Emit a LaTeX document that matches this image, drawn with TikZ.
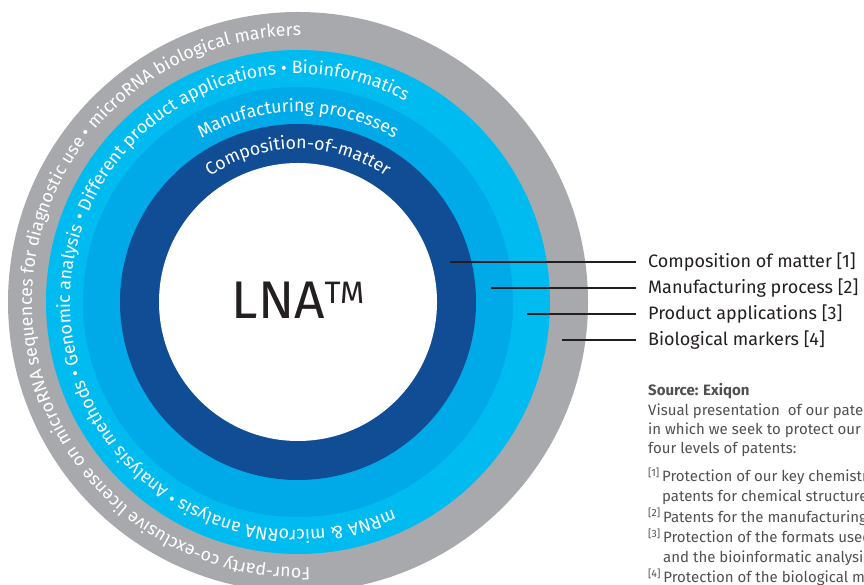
\documentclass[tikz,border=0pt]{standalone}
\usepackage{fontspec}
\setmainfont{Fira Sans}
\usetikzlibrary{decorations.text,positioning}
\definecolor{ringgray}{RGB}{167,169,172}
\definecolor{ringcyan}{RGB}{0,187,240}
\definecolor{ringblue}{RGB}{0,170,232}
\definecolor{ringdark}{RGB}{17,77,149}
\definecolor{labelgray}{RGB}{35,31,32}
\definecolor{notegray}{RGB}{80,80,82}
\newcommand\ringfont{\fontsize{17.8}{17.8}\selectfont}
\tikzset{%
  leader/.style={draw=labelgray, line width=1.2pt},
  legend/.style={anchor=base west, inner xsep=12pt, inner ysep=0pt, text=labelgray, font=\fontsize{18}{18}\selectfont},
  note/.style={anchor=base west, inner sep=0pt, align=left, text=notegray, font=\fontsize{15}{19.3}\selectfont},
  ringtext/.style={decorate, decoration={text along path, text align=center, text color=white, text={#1}}}
}

\begin{document}
\begin{tikzpicture}[x=1pt,y=1pt]

  \useasboundingbox (0,0) rectangle (864,585);
  \coordinate (c) at (298,283);

  % rings
  \fill[ringgray] (c) circle [radius=290];
  \fill[ringcyan] (c) circle [radius=252];
  \fill[ringblue] (c) circle [radius=215];
  \fill[ringdark] (c) circle [radius=178];
  \fill[white] (c) circle [radius=139];

  % ring texts
  \path[ringtext={|\ringfont|Composition-of-matter}] (c) ++(180:153) arc[start angle=180, end angle=0, radius=153];
  \path[ringtext={|\ringfont|Manufacturing processes}] (c) ++(180:190) arc[start angle=180, end angle=0, radius=190];
  \path[ringtext={|\ringfont|mRNA {\&} microRNA analysis • Analysis methods • Genomic analysis • Different product applications • Bioinformatics}]
    (c) ++(-31.75:228) arc[start angle=-31.75, end angle=-331.75, radius=228];
  \path[ringtext={|\ringfont|Four-party co-exclusive license on microRNA sequences for diagnostic use • microRNA biological markers}]
    (c) ++(-9:266) arc[start angle=-9, end angle=-349, radius=266];

  \node[text=labelgray, inner sep=0pt] (lna) at (298,285)
    {\fontsize{53}{53}\selectfont LNA\raisebox{15pt}{\fontsize{31}{31}\selectfont TM}};

  % leaders
  \coordinate (m1) at (450,323);
  \coordinate (m2) at (491,297);
  \coordinate (m3) at (527,271);
  \coordinate (m4) at (562,245);

  \node[legend] (l1) at (636,317) {Composition of matter [1]};
  \node[legend] (l2) at (636,291) {Manufacturing process [2]};
  \node[legend] (l3) at (636,265) {Product applications [3]};
  \node[legend] (l4) at (636,239) {Biological markers [4]};

  \draw[leader] (m1) -- (m1 -| l1.west);
  \draw[leader] (m2) -- (m2 -| l2.west);
  \draw[leader] (m3) -- (m3 -| l3.west);
  \draw[leader] (m4) -- (m4 -| l4.west);

  % source note
  \node[note] (src) at (648,2) {\textbf{Source: Exiqon}\\
    Visual presentation\ \ of our patent portfolio\\
    in which we seek to protect our technology\\
    four levels of patents:\\[9pt]
    \textsuperscript{[1]}\,Protection of our key chemistry\\
    \hphantom{\textsuperscript{[1]}\,}patents for chemical structures\\[1.5pt]
    \textsuperscript{[2]}\,Patents for the manufacturing\\[1.5pt]
    \textsuperscript{[3]}\,Protection of the formats used\\
    \hphantom{\textsuperscript{[3]}\,}and the bioinformatic analysis\\[1.5pt]
    \textsuperscript{[4]}\,Protection of the biological markers};

\end{tikzpicture}
\end{document}
